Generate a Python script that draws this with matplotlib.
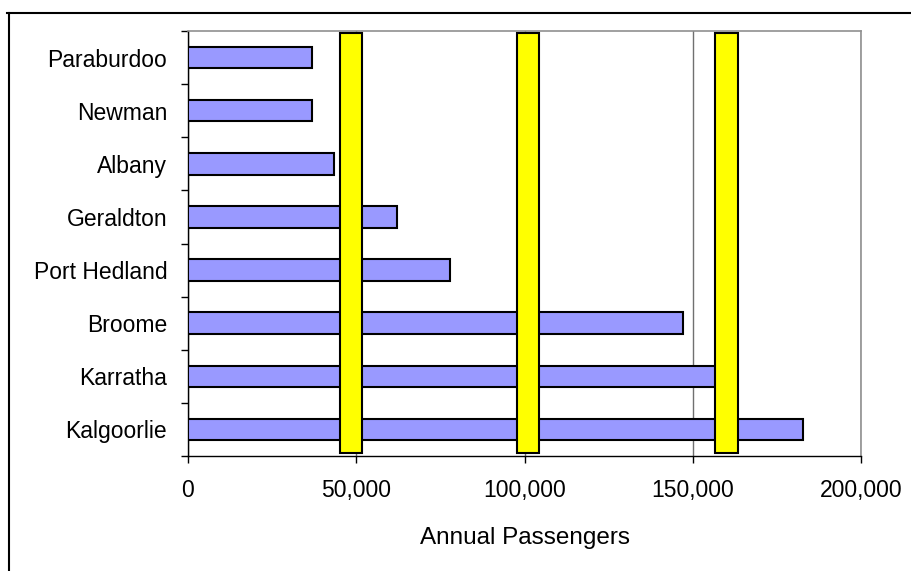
import matplotlib
matplotlib.use("Agg")
import matplotlib.pyplot as plt
from matplotlib.lines import Line2D
from matplotlib.ticker import FuncFormatter, FixedLocator
import numpy as np

plt.rcParams["font.family"] = ["Liberation Sans", "DejaVu Sans"]

# airports, bottom to top
airports = ["Kalgoorlie", "Karratha", "Broome", "Port Hedland",
            "Geraldton", "Albany", "Newman", "Paraburdoo"]
passengers = [182800, 160000, 147100, 77900, 62100, 43400, 36800, 36800]

# yellow marker columns (centre, width) in passengers
marker_centres = [48500, 101000, 160000]
marker_width = 6600

fig = plt.figure(figsize=(9.11, 5.71), dpi=100)
ax = fig.add_axes([188 / 911, 1 - 455.7 / 571, 673 / 911, 424.4 / 571])

y = np.arange(len(airports))
ax.barh(y, passengers, height=0.4, color="#9999ff", edgecolor="black",
        linewidth=1.5, zorder=3)

# columns running the full height of the plot
ax.bar(marker_centres, 7.92, bottom=-0.45, width=marker_width,
       color="#ffff00", edgecolor="black", linewidth=1.5, zorder=4)

ax.set_xlim(0, 200000)
ax.set_ylim(-0.5, len(airports) - 0.5)

ax.set_xticks([0, 50000, 100000, 150000, 200000])
ax.xaxis.set_major_formatter(FuncFormatter(lambda v, p: f"{int(v):,}"))
ax.grid(axis="x", color="#707070", linewidth=1, zorder=1)

ax.set_yticks(y)
ax.set_yticklabels(airports)
ax.yaxis.set_minor_locator(FixedLocator(np.arange(-0.5, len(airports), 1)))
ax.tick_params(axis="y", which="major", length=0, pad=15, labelsize=16.5)
ax.tick_params(axis="y", which="minor", length=5, width=1, color="black")
ax.tick_params(axis="x", which="major", length=5, width=1, pad=12,
               labelsize=16.5, color="black")

for side in ("top", "right"):
    ax.spines[side].set_color("#909090")
    ax.spines[side].set_linewidth(1.2)
for side in ("left", "bottom"):
    ax.spines[side].set_color("black")
    ax.spines[side].set_linewidth(1)

ax.set_xlabel("Annual Passengers", fontsize=17.5, labelpad=18)

# outer frame of the chart area
fig.add_artist(Line2D([7 / 911, 1.0], [1 - 12.5 / 571, 1 - 12.5 / 571],
                      transform=fig.transFigure, color="black", linewidth=1.5))
fig.add_artist(Line2D([8.5 / 911, 8.5 / 911], [1 - 12.5 / 571, 0.0],
                      transform=fig.transFigure, color="black", linewidth=1.5))

fig.savefig("out.png", dpi=100)
